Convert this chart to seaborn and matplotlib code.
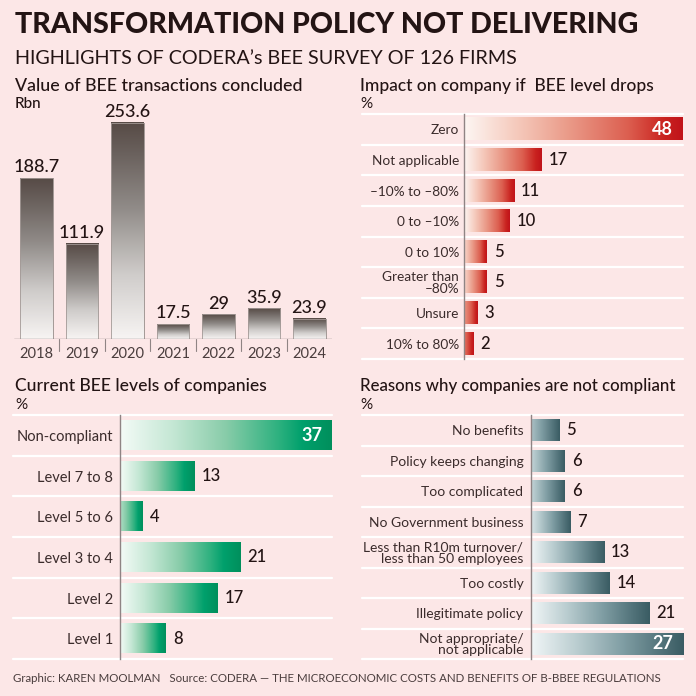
import numpy as np
import pandas as pd
import matplotlib
matplotlib.use("Agg")
import matplotlib.pyplot as plt
from matplotlib.colors import LinearSegmentedColormap
import seaborn as sns

# ---------------- data ----------------
years = ["2018", "2019", "2020", "2021", "2022", "2023", "2024"]
transactions_rbn = [188.7, 111.9, 253.6, 17.5, 29, 35.9, 23.9]

impact_cats = ["Zero", "Not applicable", "\u201310% to \u201380%", "0 to \u201310%", "0 to 10%",
               "Greater than\n\u201380%", "Unsure", "10% to 80%"]
impact_vals = [48, 17, 11, 10, 5, 5, 3, 2]

level_cats = ["Non-compliant", "Level 7 to 8", "Level 5 to 6", "Level 3 to 4", "Level 2", "Level 1"]
level_vals = [37, 13, 4, 21, 17, 8]

reason_cats = ["No benefits", "Policy keeps changing", "Too complicated", "No Government business",
               "Less than R10m turnover/\nless than 50 employees", "Too costly",
               "Illegitimate policy", "Not appropriate/\nnot applicable"]
reason_vals = [5, 6, 6, 7, 13, 14, 21, 27]

title = "TRANSFORMATION POLICY NOT DELIVERING"
subtitle = "HIGHLIGHTS OF CODERA\u2019s BEE SURVEY OF 126 FIRMS"
footer = ("Graphic: KAREN MOOLMAN   Source: CODERA \u2014 THE MICROECONOMIC COSTS AND BENEFITS "
          "OF B-BBEE REGULATIONS")

# ---------------- style ----------------
sns.set_style("white")
plt.rcParams["font.family"] = ["Lato", "DejaVu Sans"]
BG = "#fce7e7"
INK = "#231414"
TXT = "#3a2b2b"
AXC = "#8f8484"

W = H = 696
fig = plt.figure(figsize=(6.96, 6.96), dpi=100, facecolor=BG)


def add_ax(x0, y0, x1, y1):
    ax = fig.add_axes([x0 / W, 1 - y1 / H, (x1 - x0) / W, (y1 - y0) / H])
    ax.set_facecolor("none")
    return ax


def ftext(x, y, s, target_w=None, **kw):
    t = fig.text(x / W, 1 - y / H, s, **kw)
    if target_w is not None:
        r = fig.canvas.get_renderer()
        for _ in range(2):
            bw = t.get_window_extent(r).width
            t.set_fontsize(t.get_fontsize() * target_w / bw)
    return t


def cmap_of(stops):
    return LinearSegmentedColormap.from_list("g", stops)


cm_brown = cmap_of([(0, "#f7f4f3"), (0.3, "#cfccca"), (0.6, "#918c89"), (0.85, "#6b625e"), (1, "#574b46")])
cm_red = cmap_of([(0, "#fdf6f3"), (0.25, "#f5c8ba"), (0.5, "#e99684"), (0.75, "#dc5f50"), (0.92, "#c9221f"), (1, "#c0131a")])
cm_green = cmap_of([(0, "#f4fbf7"), (0.25, "#c4e7d4"), (0.5, "#88cca9"), (0.75, "#2db17f"), (0.86, "#00a06c"), (1, "#008f5c")])
cm_teal = cmap_of([(0, "#f1f6f7"), (0.3, "#bacdd0"), (0.6, "#809ea4"), (0.85, "#53747b"), (1, "#3a5c63")])

# ---------------- texts ----------------
ftext(15, 25, title, target_w=623, fontsize=20, fontweight=900, color=INK, va="center", ha="left")
ftext(15, 59, subtitle, target_w=505, fontsize=14, color=INK, va="center", ha="left")
ftext(15, 86, "Value of BEE transactions concluded", target_w=287, fontsize=12, fontweight=500,
      color=INK, va="center", ha="left")
ftext(15, 104, "Rbn", fontsize=11, fontweight=500, color=INK, va="center", ha="left")
ftext(360, 86, "Impact on company if  BEE level drops", target_w=296, fontsize=12, fontweight=500,
      color=INK, va="center", ha="left")
ftext(360, 104, "%", fontsize=11, color=INK, va="center", ha="left")
ftext(15, 386, "Current BEE levels of companies", target_w=253, fontsize=12, fontweight=500,
      color=INK, va="center", ha="left")
ftext(15, 405, "%", fontsize=11, color=INK, va="center", ha="left")
ftext(360, 386, "Reasons why companies are not compliant", target_w=315, fontsize=12, fontweight=500,
      color=INK, va="center", ha="left")
ftext(360, 405, "%", fontsize=11, color=INK, va="center", ha="left")
ftext(13, 678, footer, target_w=656, fontsize=8, color="#4a3d3d", va="center", ha="left")

# ---------------- panel 1: vertical bars ----------------
ax1 = add_ax(14, 110, 332, 339)
df1 = pd.DataFrame({"year": years, "value": transactions_rbn})
sns.barplot(data=df1, x="year", y="value", ax=ax1, width=0.72, color="white",
            edgecolor="#a39996", linewidth=0.6, saturation=1)
grad_v = np.linspace(0, 1, 256).reshape(-1, 1)
for p, v in zip(ax1.patches, transactions_rbn):
    x0, w, h = p.get_x(), p.get_width(), p.get_height()
    ax1.imshow(grad_v, cmap=cm_brown, origin="lower", aspect="auto",
               extent=[x0, x0 + w, 0, h], zorder=p.get_zorder() + 0.1)
    ax1.add_patch(plt.Rectangle((x0, 0), w, h, fill=False, edgecolor="#a39996", lw=0.6,
                                zorder=p.get_zorder() + 0.2))
    ax1.annotate(f"{v:g}", (x0 + w / 2, h), xytext=(0, 2), textcoords="offset points",
                 ha="center", va="bottom", fontsize=13, fontweight=500, color=INK)
ax1.set_xlim(-0.5, len(years) - 0.5)
ax1.set_ylim(0, 268.8)
ax1.set_xlabel("")
ax1.set_ylabel("")
ax1.set_yticks([])
ax1.tick_params(axis="x", length=0, pad=6, labelsize=10.5, labelcolor="#4a3d3d")
for s in ax1.spines.values():
    s.set_visible(False)
ax1.axhline(0, color=AXC, lw=1.0, zorder=5)
for k in range(len(years) - 1):
    ax1.plot([k + 0.5, k + 0.5], [0, -14], color=AXC, lw=0.8, clip_on=False)


# ---------------- horizontal panels ----------------
def hpanel(rect, cats, vals, cmap, lmin, line_left, label_fs, pad, value_fs=12):
    x0p, y0p, x1p, y1p = rect
    ax = add_ax(*rect)
    df = pd.DataFrame({"cat": cats, "val": vals})
    sns.barplot(data=df, y="cat", x="val", ax=ax, width=0.72, color="white",
                linewidth=0, saturation=1)
    vmax = max(vals)
    for p, v in zip(ax.patches, vals):
        x0, y0, w, h = p.get_x(), p.get_y(), p.get_width(), p.get_height()
        t0 = max(0.0, 1 - v / lmin)
        grad = np.linspace(t0, 1, 256).reshape(1, -1)
        ax.imshow(grad, cmap=cmap, vmin=0, vmax=1, aspect="auto",
                  extent=[x0, x0 + w, y0 + h, y0], zorder=p.get_zorder() + 0.1)
        yc = y0 + h / 2
        if v == vmax:
            ax.annotate(f"{v:g}", (v, yc), xytext=(-7, 0), textcoords="offset points",
                        ha="right", va="center", fontsize=value_fs + 1, fontweight="bold",
                        color="white", zorder=10)
        else:
            ax.annotate(f"{v:g}", (v, yc), xytext=(5, 0), textcoords="offset points",
                        ha="left", va="center", fontsize=value_fs, fontweight=500,
                        color=INK, zorder=10)
    n = len(cats)
    ax.set_xlim(0, vmax)
    ax.set_ylim(n - 0.5, -0.5)
    ax.set_xlabel("")
    ax.set_ylabel("")
    ax.set_xticks([])
    ax.tick_params(axis="y", length=0, pad=pad, labelsize=label_fs, labelcolor=TXT)
    for lab in ax.get_yticklabels():
        lab.set_linespacing(0.95)
    for s in ["top", "right", "bottom"]:
        ax.spines[s].set_visible(False)
    ax.spines["left"].set_color(AXC)
    ax.spines["left"].set_linewidth(1.0)
    ax.spines["left"].set_zorder(6)
    frac = (line_left - x0p) / (x1p - x0p)
    for k in range(n + 1):
        ax.plot([frac, 1], [k - 0.5, k - 0.5], transform=ax.get_yaxis_transform(),
                color="white", lw=1.6, clip_on=False, zorder=0.5)
    return ax


hpanel((464, 114, 683, 359), impact_cats, impact_vals, cm_red, 6, 362, 9.8, 3.5)
hpanel((120, 415, 332, 659), level_cats, level_vals, cm_green, 6, 13, 10.5, 5)
hpanel((531, 415, 683, 659), reason_cats, reason_vals, cm_teal, 8, 362, 10, 5.5)

fig.savefig("out.png", dpi=100, facecolor=BG)
